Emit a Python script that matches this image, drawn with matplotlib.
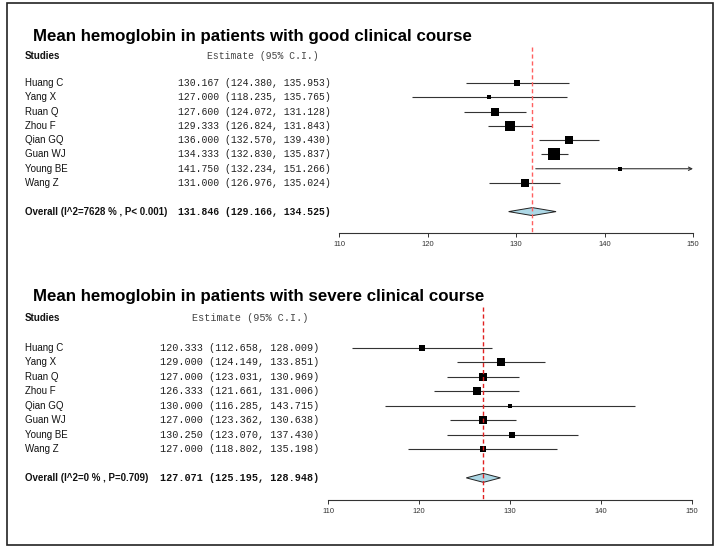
import matplotlib
matplotlib.use("Agg")
import matplotlib.pyplot as plt
from matplotlib.patches import Polygon, Rectangle
import matplotlib.transforms as mtransforms

# ---------------- data ----------------
studies = ["Huang C", "Yang X", "Ruan Q", "Zhou F", "Qian GQ", "Guan WJ", "Young BE", "Wang Z"]

good_est = [130.167, 127.000, 127.600, 129.333, 136.000, 134.333, 141.750, 131.000]
good_lo = [124.380, 118.235, 124.072, 126.824, 132.570, 132.830, 132.234, 126.976]
good_hi = [135.953, 135.765, 131.128, 131.843, 139.430, 135.837, 151.266, 135.024]
good_weight = [6.0, 5.0, 7.7, 9.3, 8.0, 11.7, 5.0, 7.3]
good_overall = [131.846, 129.166, 134.525]
good_overall_label = "Overall (I^2=7628 % , P< 0.001)"
good_title = "Mean hemoglobin in patients with good clinical course"

severe_est = [120.333, 129.000, 127.000, 126.333, 130.000, 127.000, 130.250, 127.000]
severe_lo = [112.658, 124.149, 123.031, 121.661, 116.285, 123.362, 123.070, 118.802]
severe_hi = [128.009, 133.851, 130.969, 131.006, 143.715, 130.638, 137.430, 135.198]
severe_weight = [6.3, 8.0, 8.7, 7.7, 5.0, 8.7, 6.3, 6.0]
severe_overall = [127.071, 125.195, 128.948]
severe_overall_label = "Overall (I^2=0 % , P=0.709)"
severe_title = "Mean hemoglobin in patients with severe clinical course"

xticks = [110, 120, 130, 140, 150]

# ---------------- figure ----------------
W, H = 720, 548
fig = plt.figure(figsize=(W / 100, H / 100), dpi=100)
fig.patch.set_facecolor("white")

fig.add_artist(Rectangle((7 / W, 1 - 545 / H), (713 - 7) / W, (545 - 3) / H,
                         transform=fig.transFigure, fill=False, edgecolor="#222222",
                         linewidth=1.2))

SANS = "Liberation Sans"
MONO = "Liberation Mono"


def panel(title, est, lo, hi, weight, overall, overall_label,
          row0_px, row_sp, x110_px, x150_px, est_x_px, head_x_px,
          title_y_px, studies_y_px, ref_color, ref_top_row, dia_half, mono_size):
    n = len(est)
    ymax = 10.5
    ymin = -4.0
    top_px = row0_px + ymin * row_sp
    bot_px = row0_px + ymax * row_sp
    ax = fig.add_axes([x110_px / W, 1 - bot_px / H, (x150_px - x110_px) / W, (bot_px - top_px) / H])
    ax.set_xlim(110, 150)
    ax.set_ylim(ymax, ymin)
    for s in ["top", "left", "right"]:
        ax.spines[s].set_visible(False)
    ax.spines["bottom"].set_linewidth(0.8)
    ax.spines["bottom"].set_color("#333333")
    ax.set_yticks([])
    ax.set_xticks(xticks)
    ax.set_xticklabels([str(t) for t in xticks], fontsize=5.5, family=SANS, color="#222222")
    ax.tick_params(axis="x", length=3, width=0.7, pad=3, colors="#333333")
    ax.patch.set_alpha(0)

    # study rows
    for i in range(n):
        h = min(hi[i], 150)
        if hi[i] > 150:
            ax.annotate("", xy=(150, i), xytext=(lo[i], i),
                        arrowprops=dict(arrowstyle="->", color="#333333", lw=0.8,
                                        shrinkA=0, shrinkB=0, mutation_scale=6))
        else:
            ax.plot([lo[i], h], [i, i], color="#333333", lw=0.8, solid_capstyle="butt", zorder=2)
        ax.plot([est[i]], [i], marker="s", color="black", markersize=weight[i] / 1.389,
                markeredgewidth=0, linestyle="none", zorder=3)

    # overall diamond
    oy = n + 1
    m, l, u = overall
    ax.add_patch(Polygon([[l, oy], [m, oy - dia_half], [u, oy], [m, oy + dia_half]],
                         closed=True, facecolor="#add8e6", edgecolor="#222222", lw=0.7, zorder=3))

    # reference line
    ax.plot([m, m], [ref_top_row, ymax], color=ref_color, lw=1.0, linestyle=(0, (3, 2)),
            zorder=4, clip_on=False)

    # texts
    tr = mtransforms.blended_transform_factory(fig.transFigure, ax.transData)
    for i in range(n):
        fig.text(25 / W, i, studies[i], transform=tr, fontsize=7, family=SANS,
                 va="center", ha="left", color="#111111")
        txt = f"{est[i]:.3f} ({lo[i]:.3f}, {hi[i]:.3f})"
        fig.text(est_x_px / W, i, txt, transform=tr, fontsize=mono_size, family=MONO,
                 va="center", ha="left", color="#222222")
    fig.text(25 / W, oy, overall_label, transform=tr, fontsize=7, family=SANS,
             fontweight="bold", va="center", ha="left", color="#111111")
    fig.text(est_x_px / W, oy, f"{m:.3f} ({l:.3f}, {u:.3f})", transform=tr, fontsize=mono_size,
             family=MONO, fontweight="bold", va="center", ha="left", color="#111111")

    fig.text(33 / W, 1 - title_y_px / H, title, fontsize=12.2, family=SANS, fontweight="bold",
             va="center", ha="left", color="black")
    fig.text(25 / W, 1 - studies_y_px / H, "Studies", fontsize=7, family=SANS,
             fontweight="bold", va="center", ha="left", color="#111111")
    fig.text(head_x_px / W, 1 - studies_y_px / H, "Estimate (95% C.I.)", fontsize=mono_size,
             family=MONO, va="center", ha="left", color="#444444")
    return ax


panel(good_title, good_est, good_lo, good_hi, good_weight, good_overall, good_overall_label,
      row0_px=83, row_sp=14.29, x110_px=339, x150_px=693, est_x_px=178, head_x_px=207,
      title_y_px=37, studies_y_px=56, ref_color="#ff6060", ref_top_row=-2.5, dia_half=0.28,
      mono_size=7.0)

panel(severe_title, severe_est, severe_lo, severe_hi, severe_weight, severe_overall,
      severe_overall_label,
      row0_px=348, row_sp=14.43, x110_px=328, x150_px=692, est_x_px=160, head_x_px=192,
      title_y_px=297, studies_y_px=318, ref_color="#e02020", ref_top_row=-2.85, dia_half=0.31,
      mono_size=7.25)

fig.savefig("out.png", dpi=100)
